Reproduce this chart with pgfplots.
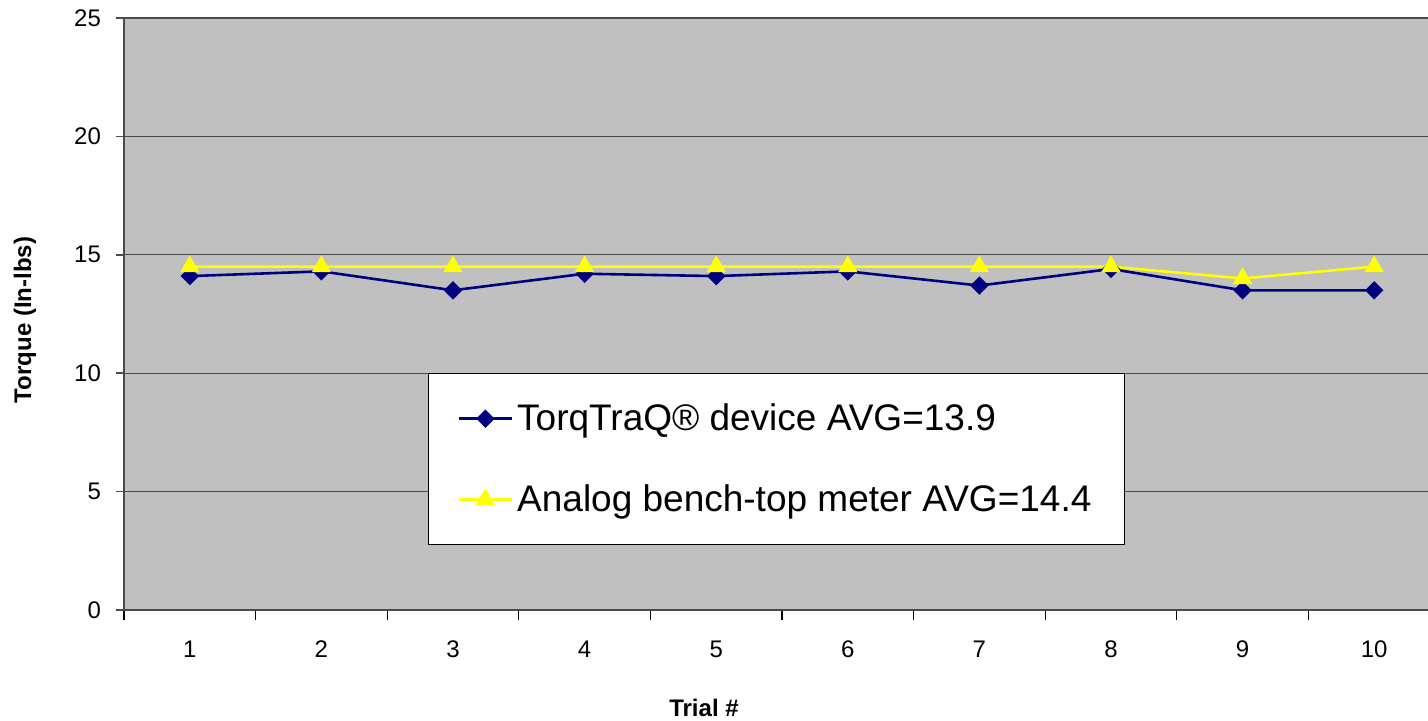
\documentclass[border=0pt]{standalone}
\usepackage{pgfplots}
\pgfplotsset{compat=1.18}
\usepackage{fontspec}
\setmainfont{Liberation Sans}
\definecolor{plotbg}{HTML}{C0C0C0}
\definecolor{navyline}{HTML}{000080}
\definecolor{yellowline}{HTML}{FFFF00}
\definecolor{axisgray}{HTML}{4A4A4A}

\begin{document}
\begin{tikzpicture}
\begin{axis}[
  width=658pt, height=296pt,
  scale only axis,
  axis background/.style={fill=plotbg},
  xmin=0.5, xmax=10.5,
  ymin=0, ymax=25,
  axis x line*=bottom,
  axis y line*=left,
  axis line style={axisgray, line width=1pt},
  xtick={1,...,10},
  minor xtick={0.5,1.5,...,10.5},
  ytick={0,5,...,25},
  tick align=outside,
  major x tick style={draw=none},
  minor x tick style={black, line width=0.6pt},
  minor tick length=5pt,
  major y tick style={axisgray, line width=0.8pt},
  major tick length=4pt,
  ymajorgrids,
  major grid style={axisgray, line width=0.6pt},
  /pgf/number format/assume math mode=true,
  tick label style={font=\fontsize{12}{14}\selectfont},
  xticklabel style={yshift=-8pt},
  yticklabel style={xshift=-4pt},
  xlabel={\bfseries Trial \#},
  ylabel={\bfseries Torque (In-lbs)},
  label style={font=\fontsize{12}{14}\selectfont},
  xlabel style={at={(axis description cs:0.5,0)}, anchor=center, yshift=-49pt, xshift=-39pt},
  ylabel style={at={(axis description cs:0,0.49)}, anchor=center, yshift=49.5pt},
  legend style={
    at={(axis description cs:0.231,0.400)}, anchor=north west,
    draw=black, fill=white, line width=0.6pt,
    font=\fontsize{18.5}{22}\selectfont,
    inner xsep=14.5pt, inner ysep=13pt,
    row sep=21.5pt,
    legend cell align=left,
    nodes={inner sep=2pt},
  },
  legend image code/.code={%
    \draw[mark repeat=2, mark phase=2] plot coordinates {(0pt,0pt) (13.25pt,0pt) (26.5pt,0pt)};},
]
\addplot[navyline, line width=1.3pt, mark=square*, mark size=2.6pt,
  mark options={rotate=45, solid, fill=navyline, draw=navyline}]
  coordinates {(1,14.1) (2,14.3) (3,13.5) (4,14.2) (5,14.1) (6,14.3) (7,13.7) (8,14.4) (9,13.5) (10,13.5)};
\addlegendentry{TorqTraQ® device AVG=13.9}
\addplot[yellowline, line width=1.3pt, mark=triangle*, mark size=4.3pt,
  mark options={solid, fill=yellowline, draw=yellowline}]
  coordinates {(1,14.5) (2,14.5) (3,14.5) (4,14.5) (5,14.5) (6,14.5) (7,14.5) (8,14.5) (9,14.0) (10,14.5)};
\addlegendentry{Analog bench-top meter AVG=14.4}
\end{axis}
\pgfresetboundingbox
\path (current axis.south west) ++(-62pt,-55.5pt) rectangle ++(714pt,360.5pt);
\end{tikzpicture}
\end{document}
